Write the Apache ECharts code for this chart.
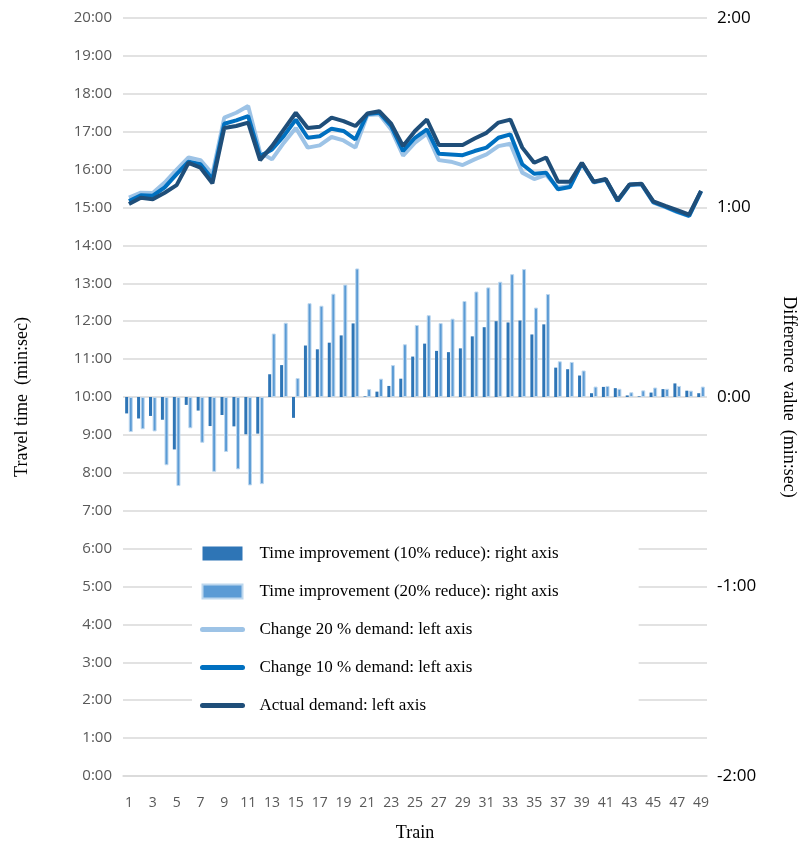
<!DOCTYPE html>
<html>
<head>
<meta charset="utf-8">
<script src="https://cdn.jsdelivr.net/npm/echarts@6/dist/echarts.min.js"></script>
<style>
  html, body { margin: 0; padding: 0; background: #fff; }
  #chart { width: 802px; height: 846px; }
</style>
</head>
<body>
<div id="chart"></div>
<script>
// categories
var trains = ["1","2","3","4","5","6","7","8","9","10","11","12","13","14","15","16","17","18","19","20",
  "21","22","23","24","25","26","27","28","29","30","31","32","33","34","35","36","37","38","39","40",
  "41","42","43","44","45","46","47","48","49"];

// left axis, travel time (minutes)
var actualDemand = [15.09,15.26,15.22,15.39,15.59,16.18,16.05,15.64,17.10,17.15,17.24,16.25,16.62,17.06,17.50,17.10,17.13,17.37,17.28,17.15,
  17.48,17.54,17.21,16.62,17.02,17.32,16.65,16.65,16.65,16.82,16.97,17.24,17.32,16.58,16.18,16.32,15.68,15.68,16.18,15.68,
  15.75,15.19,15.61,15.63,15.16,15.04,14.93,14.81,15.44];
var change10 = [15.17,15.32,15.31,15.53,15.88,16.21,16.14,15.75,17.21,17.30,17.41,16.35,16.53,16.89,17.32,16.84,16.88,17.08,17.02,16.80,
  17.47,17.50,17.15,16.49,16.84,17.06,16.42,16.40,16.38,16.49,16.58,16.84,16.93,16.14,15.89,15.92,15.48,15.54,16.17,15.67,
  15.74,15.18,15.60,15.62,15.14,15.02,14.89,14.78,15.43];
var change20 = [15.26,15.39,15.38,15.66,16.00,16.32,16.25,15.88,17.37,17.50,17.68,16.45,16.27,16.71,17.10,16.58,16.64,16.86,16.77,16.58,
  17.44,17.46,17.06,16.37,16.71,16.95,16.25,16.21,16.12,16.27,16.40,16.62,16.68,15.92,15.75,15.86,15.52,15.57,16.16,15.66,
  15.73,15.17,15.59,15.61,15.13,15.01,14.88,14.77,15.42];

// right axis, difference (seconds)
var improve10 = [-5.2,-6.8,-6.0,-7.2,-16.6,-2.5,-4.3,-9.2,-5.7,-9.3,-11.8,-11.6,7.2,10.1,-6.6,16.3,15.1,17.2,19.5,23.3,
  0.2,1.7,3.5,5.8,12.8,16.9,14.6,14.2,15.4,19.2,22.1,24.0,23.6,24.2,19.8,23.0,9.3,8.8,6.8,1.2,
  3.2,2.8,0.5,0.2,1.4,2.5,4.3,2.0,1.2];
var improve20 = [-11.1,-10.2,-10.9,-21.6,-28.2,-9.9,-14.5,-23.7,-17.4,-22.9,-28.0,-27.6,20.1,23.5,6.0,29.7,28.9,32.7,35.6,40.7,
  2.5,5.8,10.1,16.7,22.8,25.9,23.4,24.8,30.4,33.4,34.7,36.5,38.9,40.5,28.3,32.6,11.3,11.1,8.4,3.3,
  3.5,2.6,1.5,2.1,3.0,2.6,3.5,2.0,3.3];

var chart = echarts.init(document.getElementById('chart'));

function rightFmt(v) {
  var s = v < 0 ? '-' : '';
  var a = Math.abs(v);
  var m = Math.floor(a / 60);
  var sec = Math.round(a - m * 60);
  return s + m + ':' + (sec < 10 ? '0' : '') + sec;
}

var serif = 'Liberation Serif';
var noDot = { itemStyle: { opacity: 0 } };

var option = {
  animation: false,
  backgroundColor: '#fff',
  grid: { left: 123, right: 95, top: 18, bottom: 70, outerBoundsMode: 'none', containLabel: false },
  legend: {
    orient: 'vertical',
    left: 192,
    top: 537,
    itemWidth: 40,
    itemHeight: 14,
    itemGap: 21,
    padding: [8, 80, 8, 8],
    backgroundColor: '#fff',
    lineStyle: { width: 5, cap: 'round' },
    textStyle: { fontFamily: serif, fontSize: 17, color: '#000', padding: [0, 0, 0, 12] },
    data: [
      { name: 'Time improvement (10% reduce): right axis', icon: 'rect' },
      { name: 'Time improvement (20% reduce): right axis', icon: 'rect' },
      Object.assign({ name: 'Change 20 % demand: left axis' }, noDot),
      Object.assign({ name: 'Change 10 % demand: left axis' }, noDot),
      Object.assign({ name: 'Actual demand: left axis' }, noDot)
    ]
  },
  xAxis: {
    type: 'category',
    data: trains,
    name: 'Train',
    nameLocation: 'middle',
    nameGap: 48,
    nameTextStyle: { fontFamily: serif, fontSize: 18, color: '#000' },
    axisLine: { lineStyle: { color: '#d9d9d9', width: 1.5 } },
    axisTick: { show: false },
    axisLabel: { interval: 1, color: '#595959', fontSize: 14, fontFamily: 'Open Sans', margin: 20 }
  },
  yAxis: [
    {
      type: 'value',
      min: 0, max: 20, interval: 1,
      name: 'Travel time  (min:sec)',
      nameLocation: 'middle',
      nameGap: 92,
      nameTextStyle: { fontFamily: serif, fontSize: 18, color: '#000' },
      axisLine: { show: false },
      axisTick: { show: false },
      axisLabel: { color: '#595959', fontSize: 15, fontFamily: 'Open Sans', margin: 11,
        formatter: function (v) { return v + ':00'; } },
      splitLine: { lineStyle: { color: '#d9d9d9', width: 1.5 } }
    },
    {
      type: 'value',
      min: -120, max: 120, interval: 60,
      position: 'right',
      name: 'Difference  value  (min:sec)',
      nameLocation: 'middle',
      nameGap: 73,
      nameRotate: -90,
      nameTextStyle: { fontFamily: serif, fontSize: 18, color: '#000' },
      axisLine: { show: false },
      axisTick: { show: false },
      axisLabel: { color: '#000', fontSize: 17, fontFamily: 'Open Sans', margin: 10, formatter: rightFmt },
      splitLine: { show: false }
    }
  ],
  series: [
    {
      name: 'Time improvement (10% reduce): right axis',
      type: 'bar',
      yAxisIndex: 1,
      data: improve10,
      barWidth: 3,
      barGap: '20%',
      itemStyle: { color: '#2e75b6' }
    },
    {
      name: 'Time improvement (20% reduce): right axis',
      type: 'bar',
      yAxisIndex: 1,
      data: improve20,
      barWidth: 4,
      itemStyle: { color: '#5b9bd5', borderColor: '#bdd7ee', borderWidth: 1 }
    },
    {
      name: 'Change 20 % demand: left axis',
      type: 'line',
      data: change20,
      symbol: 'none',
      lineStyle: { color: '#9dc3e6', width: 4 },
      itemStyle: { color: '#9dc3e6' }
    },
    {
      name: 'Change 10 % demand: left axis',
      type: 'line',
      data: change10,
      symbol: 'none',
      lineStyle: { color: '#0070c0', width: 4 },
      itemStyle: { color: '#0070c0' }
    },
    {
      name: 'Actual demand: left axis',
      type: 'line',
      data: actualDemand,
      symbol: 'none',
      lineStyle: { color: '#1f4e79', width: 4 },
      itemStyle: { color: '#1f4e79' }
    }
  ]
};

chart.setOption(option);
</script>
</body>
</html>
